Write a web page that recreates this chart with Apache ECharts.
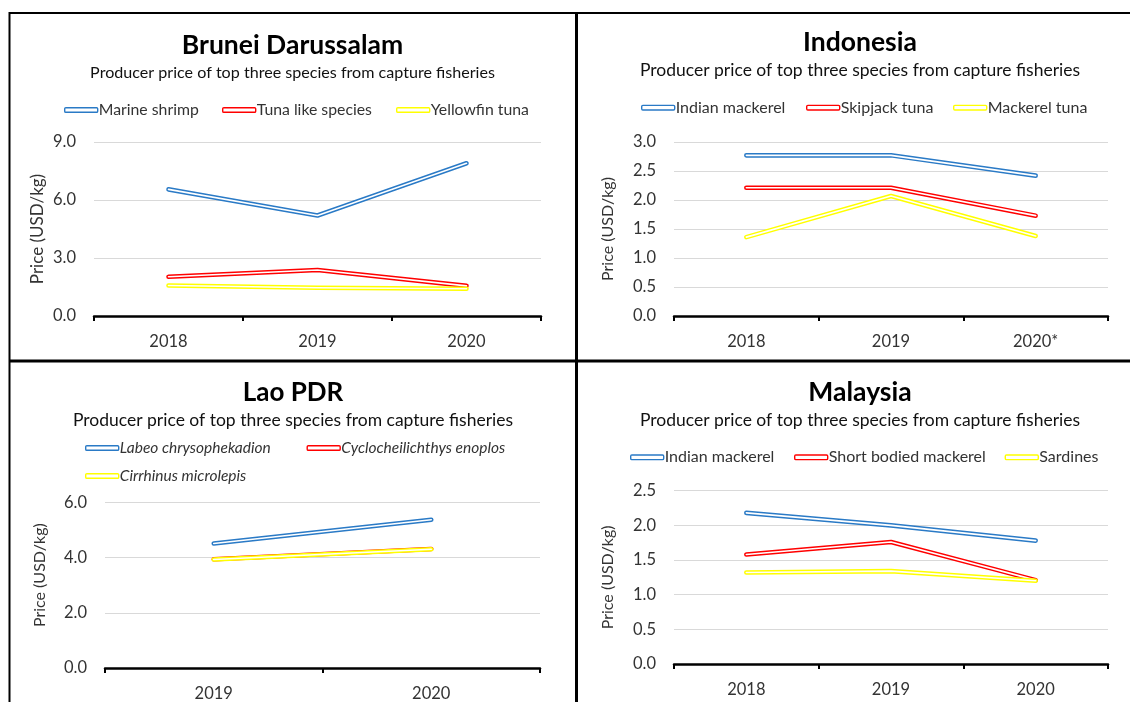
<!DOCTYPE html>
<html>
<head>
<meta charset="utf-8">
<script src="https://cdn.jsdelivr.net/npm/echarts@6/dist/echarts.min.js"></script>
<style>
html,body{margin:0;padding:0;background:#fff;}
#chart{width:1130px;height:702px;}
</style>
</head>
<body>
<div id="chart"></div>
<script>
// ---- Data ----
const panelTitles = ['Brunei Darussalam', 'Indonesia', 'Lao PDR', 'Malaysia'];
const subtitleText = 'Producer price of top three species from capture fisheries';
const yAxisName = 'Price (USD/kg)';

const bruneiYears = ['2018', '2019', '2020'];
const indoYears = ['2018', '2019', '2020*'];
const laoYears = ['2019', '2020'];
const malYears = ['2018', '2019', '2020'];

const bruneiNames = ['Marine shrimp', 'Tuna like species', 'Yellowfin tuna'];
const bruneiShrimp = [6.55, 5.2, 7.9];
const bruneiTunaLike = [2.03, 2.38, 1.56];
const bruneiYellowfin = [1.58, 1.46, 1.41];

const indoNames = ['Indian mackerel', 'Skipjack tuna', 'Mackerel tuna'];
const indoIndianMackerel = [2.77, 2.77, 2.42];
const indoSkipjack = [2.21, 2.21, 1.73];
const indoMackerelTuna = [1.36, 2.07, 1.38];

const laoNames = ['Labeo chrysophekadion', 'Cyclocheilichthys enoplos', 'Cirrhinus microlepis'];
const laoLabeo = [4.51, 5.37];
const laoCyclo = [3.94, 4.31];
const laoCirrhinus = [3.93, 4.30];

const malNames = ['Indian mackerel', 'Short bodied mackerel', 'Sardines'];
const malIndianMackerel = [2.18, 2.0, 1.78];
const malShortBodied = [1.58, 1.76, 1.21];
const malSardines = [1.32, 1.34, 1.20];

const bruneiTicks = {max: 9, interval: 3};
const indoTicks = {max: 3, interval: 0.5};
const laoTicks = {max: 6, interval: 2};
const malTicks = {max: 2.5, interval: 0.5};

// ---- Styling / layout ----
const FONT = 'Lato';
const COLORS = ['#2A7AC6', '#FF0000', '#FFFF00'];
const TXT = '#333';

const panels = [
  {years: bruneiYears, names: bruneiNames, series: [bruneiShrimp, bruneiTunaLike, bruneiYellowfin], ticks: bruneiTicks,
   grid: {left: 94, top: 142, width: 447, height: 174}, cx: 292.5, titleY: 45, subY: 72.7, titleSize: 26.5, subSize: 16.1,
   legendSize: 15.8, italic: false, legends: [[64, 110], [222, 110], [396, 110]], nameGap: 48, namePad: 0, nameSize: 17, labelSize: 16.5},
  {years: indoYears, names: indoNames, series: [indoIndianMackerel, indoSkipjack, indoMackerelTuna], ticks: indoTicks,
   grid: {left: 674, top: 142, width: 434, height: 174}, cx: 860, titleY: 42.7, subY: 70.7, titleSize: 26.5, subSize: 17.5,
   legendSize: 16, italic: false, legends: [[641, 107.7], [806, 107.7], [953, 107.7]], nameGap: 58, namePad: 0, nameSize: 16, labelSize: 16.5},
  {years: laoYears, names: laoNames, series: [laoLabeo, laoCyclo, laoCirrhinus], ticks: laoTicks,
   grid: {left: 105, top: 502.3, width: 435, height: 168.4}, cx: 293, titleY: 392.7, subY: 420.7, titleSize: 26, subSize: 17.5,
   legendSize: 15.5, italic: true, legends: [[85, 448], [306.5, 448], [85, 476]], nameGap: 57, namePad: 20, nameSize: 16, labelSize: 16.5},
  {years: malYears, names: malNames, series: [malIndianMackerel, malShortBodied, malSardines], ticks: malTicks,
   grid: {left: 674, top: 490.7, width: 434, height: 173.3}, cx: 860, titleY: 392.3, subY: 420.7, titleSize: 26.5, subSize: 17.5,
   legendSize: 16, italic: false, legends: [[630, 457.3], [794, 457.3], [1004.6, 457.3]], nameGap: 58, namePad: 0, nameSize: 16, labelSize: 16.5}
];

const option = {
  animation: false,
  backgroundColor: '#fff',
  textStyle: {fontFamily: FONT},
  title: [], legend: [], grid: [], xAxis: [], yAxis: [], series: [],
  graphic: []
};

panels.forEach((p, i) => {
  option.title.push({
    text: panelTitles[i], left: p.cx, top: p.titleY - 16, textAlign: 'center', padding: 0,
    textStyle: {fontFamily: FONT, fontSize: p.titleSize, fontWeight: 'bold', color: '#000', lineHeight: 32}
  });
  option.title.push({
    text: subtitleText, left: p.cx, top: p.subY - 11, textAlign: 'center', padding: 0,
    textStyle: {fontFamily: FONT, fontSize: p.subSize, fontWeight: 'normal', color: '#111', lineHeight: 22}
  });
  option.grid.push(Object.assign({containLabel: false}, p.grid));
  option.xAxis.push({
    type: 'category', gridIndex: i, data: p.years, boundaryGap: true,
    axisLine: {lineStyle: {color: '#000', width: 2.5}},
    axisTick: {show: true, length: 5, lineStyle: {color: '#000', width: 2}},
    axisLabel: {color: TXT, fontFamily: FONT, fontSize: p.labelSize, margin: 17},
    splitLine: {show: false}
  });
  option.yAxis.push({
    type: 'value', gridIndex: i, min: 0, max: p.ticks.max, interval: p.ticks.interval,
    name: yAxisName, nameLocation: 'middle', nameRotate: 90, nameGap: p.nameGap,
    nameTextStyle: {color: TXT, fontFamily: FONT, fontSize: p.nameSize, padding: [0, 0, 0, p.namePad]},
    axisLine: {show: false}, axisTick: {show: false},
    axisLabel: {color: TXT, fontFamily: FONT, fontSize: p.labelSize, margin: 18, formatter: v => v.toFixed(1)},
    splitLine: {lineStyle: {color: '#d9d9d9', width: 1}}
  });
  p.series.forEach((vals, k) => {
    option.series.push({
      type: 'line', name: p.names[k] + '#' + i, xAxisIndex: i, yAxisIndex: i, data: vals,
      symbol: 'none', silent: true, z: 2 + k * 2,
      lineStyle: {color: COLORS[k], width: 4.6, cap: 'round', join: 'round'}
    });
    option.series.push({
      type: 'line', name: '_w' + i + '_' + k, xAxisIndex: i, yAxisIndex: i, data: vals,
      symbol: 'none', silent: true, z: 3 + k * 2,
      lineStyle: {color: '#fff', width: 1.6, cap: 'round', join: 'round'}
    });
    const pos = p.legends[k];
    option.legend.push({
      left: pos[0], top: pos[1] - 10, padding: 0, itemGap: 0,
      itemWidth: 33, itemHeight: 4.6, icon: 'roundRect', selectedMode: false,
      textStyle: {fontFamily: FONT, fontSize: p.legendSize, color: TXT, fontStyle: p.italic ? 'italic' : 'normal', lineHeight: 20, padding: [0, 0, 0, -4]},
      data: [{name: p.names[k] + '#' + i, itemStyle: {color: '#fff', borderColor: COLORS[k], borderWidth: 1.4}}],
      formatter: n => n.split('#')[0]
    });
  });
});

// panel borders
const B = '#000';
option.graphic = [
  {type: 'line', shape: {x1: 9, y1: 13, x2: 1130, y2: 13}, style: {stroke: B, lineWidth: 2}, silent: true},
  {type: 'line', shape: {x1: 9.5, y1: 12, x2: 9.5, y2: 702}, style: {stroke: B, lineWidth: 2}, silent: true},
  {type: 'line', shape: {x1: 576.5, y1: 12, x2: 576.5, y2: 702}, style: {stroke: B, lineWidth: 3}, silent: true},
  {type: 'line', shape: {x1: 9, y1: 361, x2: 1130, y2: 361}, style: {stroke: B, lineWidth: 3}, silent: true}
];

const chart = echarts.init(document.getElementById('chart'), null, {renderer: 'canvas'});
chart.setOption(option);
</script>
</body>
</html>
